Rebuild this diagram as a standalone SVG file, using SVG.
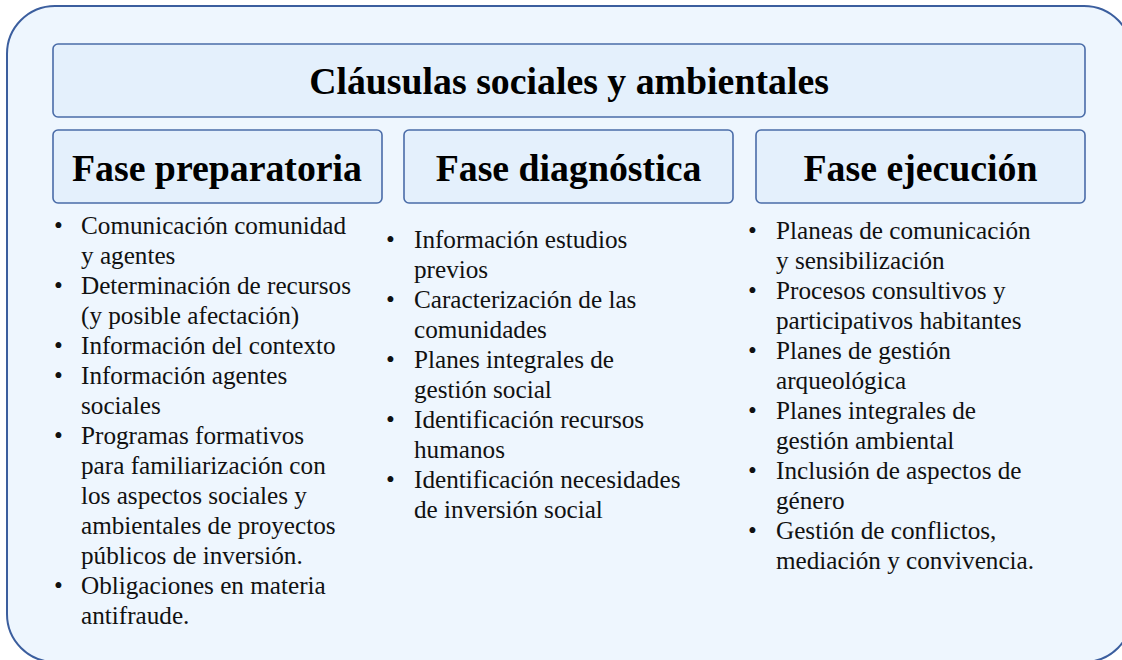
<svg xmlns="http://www.w3.org/2000/svg" width="1122" height="660" viewBox="0 0 1122 660">
<style>
.frame{fill:#EEF6FE;stroke:#3B5E9E;stroke-width:2}
.box{fill:#E4F0FC;stroke:#4A6CA8;stroke-width:1.6}
.title{font-family:"Liberation Serif",serif;font-weight:bold;font-size:37.8px;fill:#000;text-anchor:middle}
.phase{font-family:"Liberation Serif",serif;font-weight:bold;font-size:37.8px;fill:#000;text-anchor:middle}
.item{font-family:"Liberation Serif",serif;font-size:25.2px;fill:#111}
</style>
<rect class="frame" x="7" y="6" width="1125" height="656" rx="48" ry="48"/>
<g id="title">
<rect class="box" x="53" y="44" width="1032" height="73" rx="5"/>
<text class="title" x="569" y="94">Cláusulas sociales y ambientales</text>
</g>
<g id="fase-preparatoria">
<rect class="box" x="53" y="130" width="329" height="73" rx="5"/>
<text class="phase" x="217" y="181">Fase preparatoria</text>
<text class="item">
<tspan x="54" y="234">•</tspan><tspan x="81" y="234">Comunicación comunidad</tspan>
<tspan x="81" y="264">y agentes</tspan>
<tspan x="54" y="294">•</tspan><tspan x="81" y="294">Determinación de recursos</tspan>
<tspan x="81" y="324">(y  posible afectación)</tspan>
<tspan x="54" y="354">•</tspan><tspan x="81" y="354">Información del contexto</tspan>
<tspan x="54" y="384">•</tspan><tspan x="81" y="384">Información agentes</tspan>
<tspan x="81" y="414">sociales</tspan>
<tspan x="54" y="444">•</tspan><tspan x="81" y="444">Programas formativos</tspan>
<tspan x="81" y="474">para familiarización  con</tspan>
<tspan x="81" y="504">los aspectos sociales y</tspan>
<tspan x="81" y="534">ambientales de proyectos</tspan>
<tspan x="81" y="564">públicos de inversión.</tspan>
<tspan x="54" y="594">•</tspan><tspan x="81" y="594">Obligaciones  en materia</tspan>
<tspan x="81" y="624">antifraude.</tspan>
</text>
</g>
<g id="fase-diagnostica">
<rect class="box" x="404" y="130" width="329" height="73" rx="5"/>
<text class="phase" x="568.5" y="181">Fase diagnóstica</text>
<text class="item">
<tspan x="386" y="248">•</tspan><tspan x="414" y="248">Información estudios</tspan>
<tspan x="414" y="278">previos</tspan>
<tspan x="386" y="308">•</tspan><tspan x="414" y="308">Caracterización  de las</tspan>
<tspan x="414" y="338">comunidades</tspan>
<tspan x="386" y="368">•</tspan><tspan x="414" y="368">Planes integrales de</tspan>
<tspan x="414" y="398">gestión social</tspan>
<tspan x="386" y="428">•</tspan><tspan x="414" y="428">Identificación recursos</tspan>
<tspan x="414" y="458">humanos</tspan>
<tspan x="386" y="488">•</tspan><tspan x="414" y="488">Identificación necesidades</tspan>
<tspan x="414" y="518">de inversión social</tspan>
</text>
</g>
<g id="fase-ejecucion">
<rect class="box" x="756" y="130" width="329" height="73" rx="5"/>
<text class="phase" x="920.5" y="181">Fase ejecución</text>
<text class="item">
<tspan x="748" y="239">•</tspan><tspan x="776" y="239">Planeas de comunicación</tspan>
<tspan x="776" y="269">y sensibilización</tspan>
<tspan x="748" y="299">•</tspan><tspan x="776" y="299">Procesos consultivos y</tspan>
<tspan x="776" y="329">participativos  habitantes</tspan>
<tspan x="748" y="359">•</tspan><tspan x="776" y="359">Planes de gestión</tspan>
<tspan x="776" y="389">arqueológica</tspan>
<tspan x="748" y="419">•</tspan><tspan x="776" y="419">Planes integrales de</tspan>
<tspan x="776" y="449">gestión ambiental</tspan>
<tspan x="748" y="479">•</tspan><tspan x="776" y="479">Inclusión de aspectos de</tspan>
<tspan x="776" y="509">género</tspan>
<tspan x="748" y="539">•</tspan><tspan x="776" y="539">Gestión de conflictos,</tspan>
<tspan x="776" y="569">mediación y convivencia.</tspan>
</text>
</g>
<g id="connectors"></g>
</svg>
